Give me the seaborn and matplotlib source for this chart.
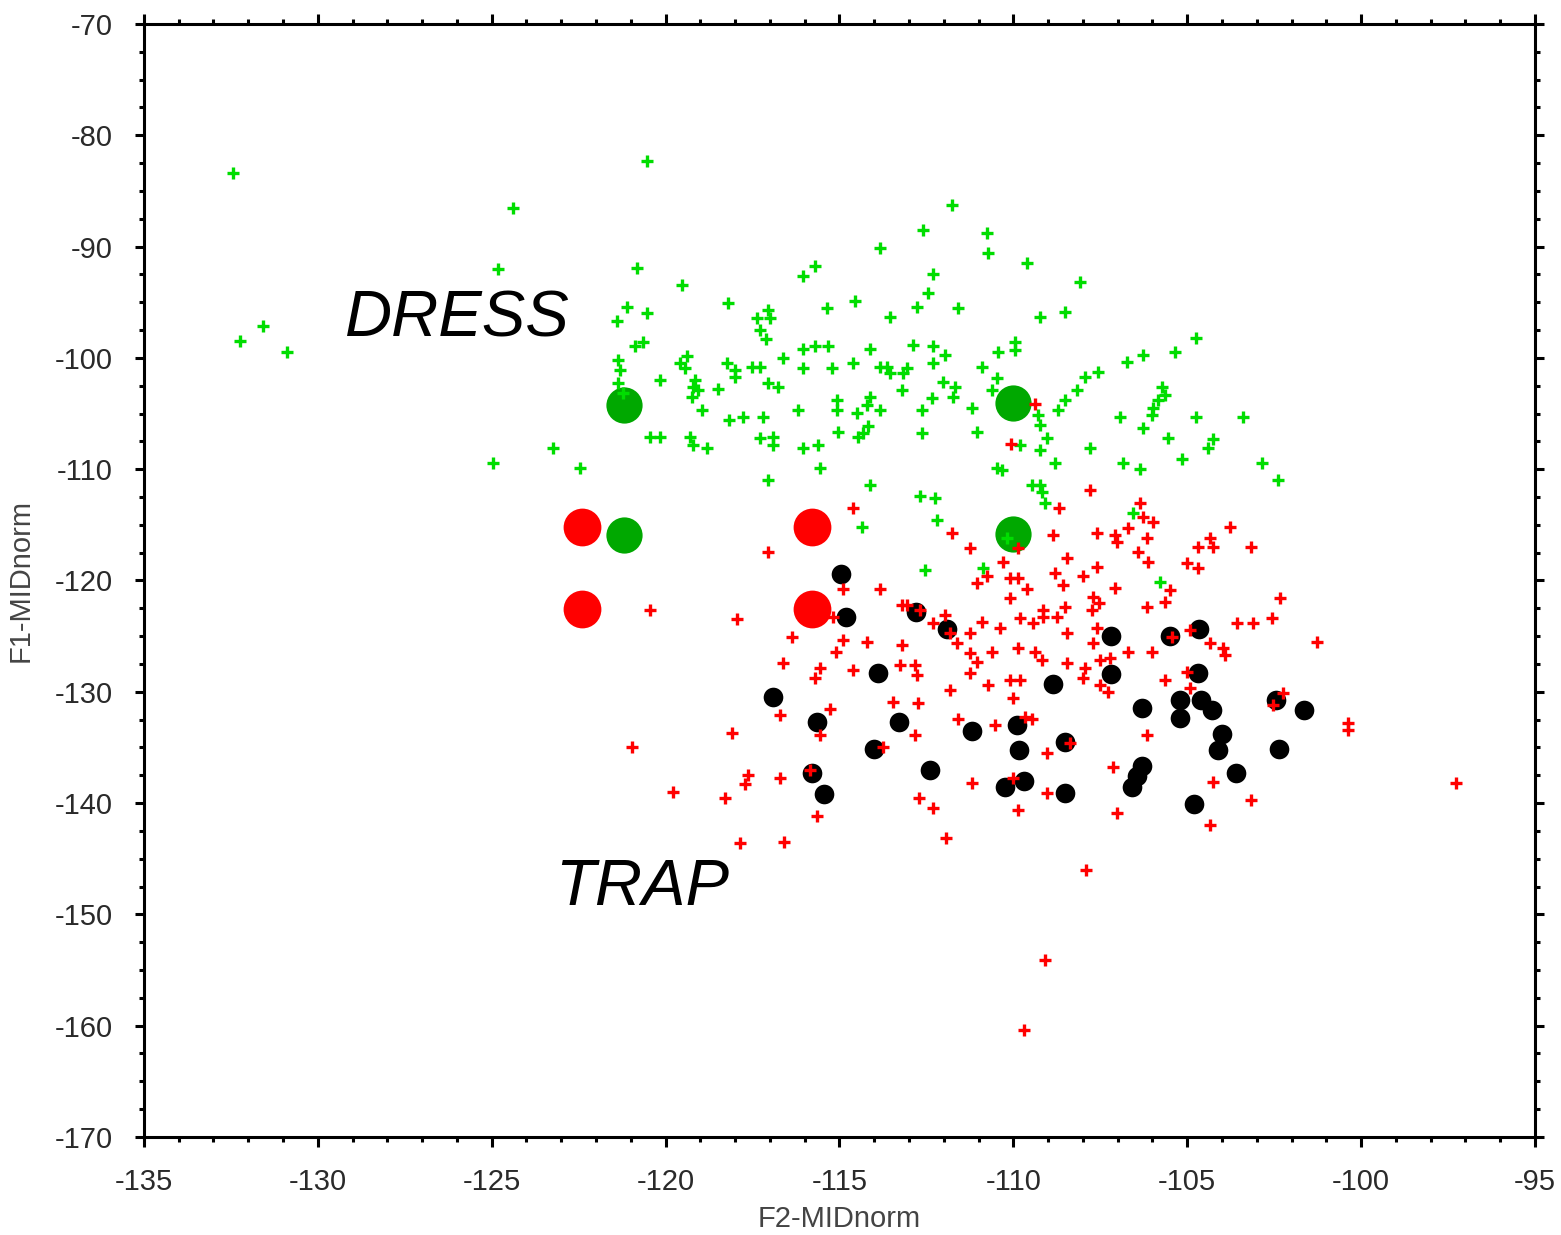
import matplotlib
matplotlib.use("Agg")
import matplotlib.pyplot as plt
from matplotlib.ticker import MultipleLocator
import seaborn as sns

# ---------------- data ----------------
green_x = [-120.54, -124.39, -124.82, -120.82, -119.53, -116.05, -118.21, -117.06, -117.37, -117.00,
           -121.11, -120.54, -121.40, -117.29, -117.11, -120.65, -120.88, -116.05, -116.62, -121.37,
           -119.39, -119.59, -119.44, -121.31, -118.24, -118.00, -117.52, -117.29, -116.05, -120.16,
           -119.16, -119.21, -119.07, -118.00, -117.06, -116.77, -118.49, -121.37, -121.23, -118.95,
           -116.19, -118.18, -117.78, -117.20, -119.24, -120.45, -120.16, -119.30, -119.21, -118.81,
           -117.29, -116.91, -116.91, -116.05, -123.24, -124.96, -122.46, -117.06, -111.77, -112.60,
           -110.76, -113.84, -110.73, -109.61, -115.70, -112.31, -108.08, -114.55, -112.46, -112.77,
           -115.36, -111.59, -113.55, -109.23, -108.52, -109.95, -109.95, -110.44, -112.89, -112.31,
           -111.97, -115.70, -115.33, -114.12, -115.22, -114.61, -113.84, -113.63, -113.55, -113.06,
           -113.17, -112.31, -110.90, -110.47, -112.02, -111.68, -111.74, -113.20, -110.61, -108.17,
           -107.94, -107.57, -115.07, -115.07, -114.12, -114.21, -112.34, -113.84, -112.63, -111.19,
           -114.50, -108.52, -108.72, -109.29, -109.23, -115.04, -114.18, -114.32, -114.47, -112.63,
           -111.05, -109.03, -109.81, -115.62, -109.23, -107.80, -108.80, -115.56, -110.47, -110.33,
           -109.46, -109.23, -114.12, -104.75, -106.27, -105.35, -106.73, -105.73, -105.64, -105.84,
           -105.98, -106.01, -106.93, -104.75, -103.40, -106.27, -105.55, -104.26, -104.40, -105.15,
           -106.85, -106.36, -102.85, -102.39, -109.18, -109.09, -112.69, -112.25, -112.20, -110.18,
           -106.56, -112.54, -110.87, -105.78, -114.35, -132.44, -131.58, -132.24, -130.89]
green_y = [-82.31, -86.53, -92.01, -91.92, -93.45, -92.64, -95.07, -95.70, -96.42, -96.42,
           -95.43, -95.97, -96.68, -97.49, -98.30, -98.57, -98.93, -99.20, -100.01, -100.19,
           -99.83, -100.46, -100.91, -101.09, -100.46, -101.09, -100.82, -100.82, -100.91, -101.99,
           -101.99, -102.61, -102.88, -101.72, -102.26, -102.61, -102.79, -102.26, -103.15, -104.68,
           -104.68, -105.58, -105.31, -105.31, -103.51, -107.11, -107.11, -107.11, -107.83, -108.10,
           -107.20, -107.11, -107.83, -108.10, -108.10, -109.44, -109.89, -110.97, -86.26, -88.51,
           -88.78, -90.13, -90.58, -91.47, -91.74, -92.46, -93.18, -94.89, -94.17, -95.43,
           -95.52, -95.52, -96.33, -96.33, -95.88, -98.57, -99.29, -99.47, -98.84, -98.93,
           -99.74, -98.93, -98.93, -99.20, -100.91, -100.46, -100.82, -100.82, -101.36, -100.91,
           -101.36, -100.46, -100.82, -101.81, -102.17, -102.61, -103.51, -102.88, -102.88, -102.88,
           -101.72, -101.27, -103.78, -104.68, -103.51, -104.23, -103.60, -104.68, -104.68, -104.50,
           -104.95, -103.78, -104.68, -105.13, -106.03, -106.66, -106.12, -106.75, -107.11, -106.75,
           -106.66, -107.20, -107.83, -107.83, -108.27, -108.10, -109.44, -109.89, -109.89, -110.07,
           -111.42, -111.42, -111.42, -98.21, -99.74, -99.47, -100.37, -102.61, -103.33, -103.78,
           -104.50, -105.13, -105.31, -105.31, -105.31, -106.30, -107.20, -107.29, -108.10, -109.08,
           -109.44, -109.98, -109.44, -110.97, -112.05, -113.04, -112.41, -112.59, -114.56, -116.18,
           -113.94, -119.06, -118.88, -120.14, -115.19, -83.39, -97.13, -98.48, -99.47]

red_x = [-114.61, -117.06, -113.84, -114.90, -120.45, -117.95, -113.20, -113.06, -115.19, -116.37,
         -114.90, -114.21, -113.20, -115.10, -116.62, -115.56, -115.70, -114.61, -113.26, -112.83,
         -112.77, -115.27, -116.71, -113.46, -112.74, -118.09, -115.56, -112.83, -113.75, -120.97,
         -117.63, -117.72, -116.71, -115.85, -119.79, -118.29, -115.65, -117.86, -116.60, -112.70,
         -107.80, -106.36, -106.27, -105.98, -106.70, -108.69, -111.77, -108.86, -107.60, -107.08,
         -107.02, -106.16, -111.25, -109.87, -110.30, -108.46, -107.60, -106.42, -106.13, -110.76,
         -111.05, -110.10, -109.87, -108.80, -108.00, -108.57, -109.61, -110.10, -107.08, -107.71,
         -107.54, -112.69, -111.97, -112.31, -111.82, -111.62, -111.25, -110.90, -110.38, -109.81,
         -109.44, -109.15, -109.15, -108.75, -108.52, -107.74, -106.16, -108.46, -107.60, -107.71,
         -111.25, -111.05, -110.61, -109.87, -109.38, -109.18, -108.46, -107.51, -107.22, -106.70,
         -106.01, -111.25, -110.73, -110.10, -109.81, -108.00, -107.94, -107.51, -107.28, -111.82,
         -110.01, -111.59, -110.53, -109.46, -109.67, -108.37, -109.03, -106.16, -107.14, -111.19,
         -110.01, -109.03, -112.31, -109.87, -107.02, -111.94, -103.77, -104.69, -104.35, -104.26,
         -103.17, -105.01, -104.69, -105.50, -105.64, -102.33, -103.57, -103.11, -102.56, -104.92,
         -104.35, -103.97, -103.91, -101.27, -105.01, -105.64, -104.92, -102.25, -102.53, -105.44,
         -100.38, -100.38, -104.26, -103.17, -104.35, -97.27, -107.91, -109.09, -109.69, -109.38,
         -110.07]
red_y = [-113.49, -117.44, -120.76, -120.76, -122.65, -123.46, -122.20, -122.20, -123.28, -125.08,
         -125.35, -125.53, -125.80, -126.42, -127.41, -127.86, -128.76, -128.04, -127.59, -127.59,
         -128.49, -131.54, -132.08, -130.92, -131.01, -133.70, -133.88, -133.88, -134.96, -134.96,
         -137.48, -138.28, -137.75, -137.03, -139.00, -139.54, -141.16, -143.58, -143.49, -139.54,
         -111.87, -113.04, -114.29, -114.74, -115.28, -113.49, -115.73, -115.91, -115.73, -115.91,
         -116.54, -116.18, -117.10, -117.08, -118.34, -117.98, -118.79, -117.44, -118.34, -119.60,
         -120.23, -119.78, -119.78, -119.33, -119.60, -120.40, -120.76, -121.57, -120.67, -121.48,
         -122.02, -122.65, -123.10, -123.82, -124.72, -125.62, -124.72, -123.73, -124.27, -123.37,
         -123.82, -122.65, -123.28, -123.28, -122.38, -122.65, -122.38, -124.72, -124.27, -125.62,
         -126.51, -127.32, -126.42, -126.06, -126.42, -127.14, -127.41, -127.14, -126.96, -126.42,
         -126.42, -128.31, -129.39, -128.94, -128.94, -128.76, -127.86, -129.39, -130.02, -129.84,
         -130.56, -132.44, -132.98, -132.44, -132.26, -134.60, -135.50, -133.88, -136.80, -138.19,
         -137.75, -139.09, -140.44, -140.62, -140.89, -143.14, -115.19, -116.99, -116.18, -116.99,
         -116.99, -118.45, -118.88, -120.85, -121.93, -121.57, -123.82, -123.82, -123.37, -124.47,
         -125.62, -126.06, -126.69, -125.53, -128.22, -128.94, -129.66, -130.11, -131.19, -125.08,
         -132.80, -133.43, -138.10, -139.72, -141.97, -138.19, -146.01, -154.10, -160.39, -104.14,
         -107.74]

black_x = [-114.96, -114.80, -112.80, -111.90, -113.90, -116.90, -115.65, -113.30, -114.00, -115.80,
           -115.45, -112.40, -111.20, -109.90, -109.85, -109.70, -110.25, -108.85, -108.50, -108.50,
           -107.20, -107.20, -106.30, -106.30, -106.45, -106.60, -105.50, -105.20, -105.20, -104.65,
           -104.70, -104.60, -104.30, -104.00, -104.10, -103.60, -104.80, -102.45, -101.65, -102.35]
black_y = [-119.4, -123.3, -122.8, -124.4, -128.3, -130.5, -132.7, -132.7, -135.1, -137.3,
           -139.2, -137.0, -133.5, -133.0, -135.2, -138.0, -138.6, -129.3, -134.5, -139.1,
           -125.0, -128.4, -131.5, -136.7, -137.6, -138.6, -125.0, -130.7, -132.4, -124.4,
           -128.3, -130.7, -131.6, -133.8, -135.2, -137.3, -140.1, -130.7, -131.6, -135.1]

big_green_x = [-121.2, -110.0, -121.2, -110.0]
big_green_y = [-104.2, -104.1, -115.9, -115.8]
big_red_x = [-122.4, -115.8, -122.4, -115.8]
big_red_y = [-115.2, -115.2, -122.6, -122.6]

labels = [("DRESS", -129.22, -98.12), ("TRAP", -123.18, -149.16)]

# ---------------- figure ----------------
sns.set_theme(style="white")
plt.rcParams["font.family"] = ["Liberation Sans", "DejaVu Sans"]
plt.rcParams["axes.unicode_minus"] = False

fig = plt.figure(figsize=(15.61, 12.35), dpi=100)
ax = fig.add_axes([0.0922, 0.0794, 0.8911, 0.9012])

sns.scatterplot(x=big_green_x, y=big_green_y, color="#00a800", s=680, marker="o",
                linewidth=0, ax=ax, zorder=2)
sns.scatterplot(x=big_red_x, y=big_red_y, color="#ff0000", s=740, marker="o",
                linewidth=0, ax=ax, zorder=2)
sns.scatterplot(x=black_x, y=black_y, color="black", s=200, marker="o",
                linewidth=0, ax=ax, zorder=3)
sns.scatterplot(x=green_x, y=green_y, color="#00dd00", s=70, marker="+",
                linewidth=2.4, ax=ax, zorder=4)
sns.scatterplot(x=red_x, y=red_y, color="#ff0000", s=70, marker="+",
                linewidth=2.4, ax=ax, zorder=5)

for txt, tx, ty in labels:
    ax.text(tx, ty, txt, fontsize=47, style="italic", ha="left", va="baseline",
            color="black", zorder=6)

ax.set_xlim(-135, -95)
ax.set_ylim(-170, -70)
ax.xaxis.set_major_locator(MultipleLocator(5))
ax.xaxis.set_minor_locator(MultipleLocator(1))
ax.yaxis.set_major_locator(MultipleLocator(10))
ax.yaxis.set_minor_locator(MultipleLocator(2.5))

for sp in ax.spines.values():
    sp.set_visible(True)
    sp.set_linewidth(2.2)
    sp.set_color("black")

ax.tick_params(axis="both", which="both", direction="out", top=True, right=True,
               bottom=True, left=True, color="black", width=2.2)
ax.tick_params(axis="x", which="major", length=7.5, pad=15, labelsize=21, labelcolor="#2a2a2a")
ax.tick_params(axis="y", which="major", length=6.5, pad=16, labelsize=21, labelcolor="#2a2a2a")
ax.tick_params(axis="both", which="minor", length=3.3)
ax.grid(False)

ax.set_xlabel("F2-MIDnorm", fontsize=21, color="#444444", labelpad=6)
ax.set_ylabel("F1-MIDnorm", fontsize=21, color="#444444", labelpad=14)

fig.savefig("out.png", dpi=100, facecolor="white")
